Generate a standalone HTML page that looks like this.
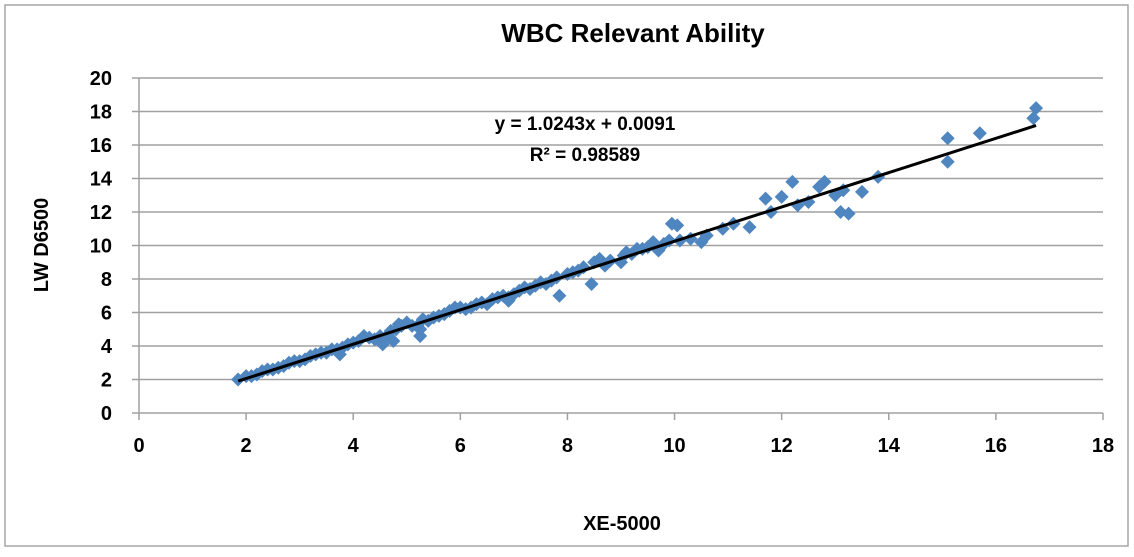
<!DOCTYPE html>
<html><head><meta charset="utf-8"><style>
body{margin:0;background:#fff;font-family:"Liberation Sans",Arial,sans-serif}
svg text{font-family:"Liberation Sans",Arial,sans-serif;font-weight:bold}
</style></head><body>
<svg id="c" width="1134" height="552">
<rect x="5" y="5" width="1123" height="541" fill="#fff" stroke="#a6a6a6" stroke-width="1.5"/>
<text x="633" y="42" font-size="26" text-anchor="middle">WBC Relevant Ability</text>
<text x="585" y="130" font-size="19" text-anchor="middle">y = 1.0243x + 0.0091</text>
<text x="585" y="161" font-size="19" text-anchor="middle">R² = 0.98589</text>
<text x="622" y="530" font-size="20" text-anchor="middle">XE-5000</text>
<text transform="translate(48,245) rotate(-90)" font-size="20" text-anchor="middle">LW D6500</text>
<g id="grid"></g><g id="pts"></g><g id="trend"></g>
</svg>
<script>
const xTicks=[0,2,4,6,8,10,12,14,16,18];
const yTicks=[0,2,4,6,8,10,12,14,16,18,20];
const xs=[1.85,2.0,2.1,2.2,2.3,2.4,2.5,2.6,2.7,2.8,2.9,3.0,3.1,3.2,3.3,3.4,3.5,3.6,3.7,3.8,3.9,4.0,4.1,4.2,4.3,4.4,4.5,4.6,4.7,4.8,4.85,4.9,5.0,5.1,5.2,5.25,5.3,5.4,5.5,5.6,5.7,5.8,5.9,6.0,6.1,6.2,6.3,6.4,6.5,6.6,6.7,6.8,6.9,7.0,7.1,7.2,7.3,7.4,7.5,7.6,7.7,7.8,7.85,8.0,8.1,8.2,8.3,8.45,8.5,8.6,8.7,8.8,9.0,9.05,9.1,9.2,9.3,9.4,9.5,9.6,9.7,9.8,9.9,9.95,10.05,10.1,10.3,10.5,10.6,10.9,11.1,11.4,11.7,11.8,12.0,12.2,12.3,12.5,12.7,12.8,13.0,13.1,13.15,13.25,13.5,13.8,15.1,15.1,15.7,16.7,16.75,4.75,5.25,6.9,4.55,3.75];
const ys=[2.0,2.2,2.2,2.3,2.5,2.6,2.6,2.7,2.8,3.0,3.1,3.1,3.2,3.4,3.5,3.6,3.6,3.8,3.8,3.9,4.1,4.2,4.3,4.6,4.5,4.4,4.6,4.5,4.9,5.0,5.3,5.2,5.4,5.2,5.2,5.0,5.6,5.5,5.7,5.8,5.9,6.1,6.3,6.3,6.2,6.3,6.5,6.6,6.5,6.8,6.9,7.0,6.9,7.1,7.3,7.5,7.4,7.6,7.8,7.7,7.9,8.1,7.0,8.3,8.4,8.5,8.7,7.7,9.0,9.2,8.8,9.1,9.0,9.4,9.6,9.5,9.8,9.8,9.9,10.2,9.7,10.1,10.3,11.3,11.2,10.3,10.4,10.2,10.6,11.0,11.3,11.1,12.8,12.0,12.9,13.8,12.4,12.6,13.5,13.8,13.0,12.0,13.3,11.9,13.2,14.1,16.4,15.0,16.7,17.6,18.2,4.3,4.6,6.7,4.1,3.5];
const slope=1.0243, intercept=0.0091, xMin=1.85, xMax=16.75;
const X=v=>139+v*(1103-139)/18, Y=v=>413-v*(413-78)/20;
const NS='http://www.w3.org/2000/svg';
function mk(t,a,p){const e=document.createElementNS(NS,t);for(const k in a)e.setAttribute(k,a[k]);p.appendChild(e);return e;}
const g=document.getElementById('grid');
yTicks.forEach(t=>{
 const l=mk('line',{x1:132,x2:1103,y1:Y(t),y2:Y(t),stroke:'#a0a0a0','stroke-width':1.5},g);
 
 
 const tx=mk('text',{x:112,y:Y(t)+7,'font-size':20,'text-anchor':'end'},g);tx.textContent=t;
 
 
});
mk('line',{x1:139,x2:139,y1:78,y2:413,stroke:'#a0a0a0','stroke-width':1.5},g);
xTicks.forEach(t=>{
 const l=mk('line',{x1:X(t),x2:X(t),y1:413,y2:420,stroke:'#a0a0a0','stroke-width':1.5},g);
 
 
 const tx=mk('text',{x:X(t),y:452,'font-size':20,'text-anchor':'middle'},g);tx.textContent=t;
 
 
});
const p=document.getElementById('pts');
xs.forEach((v,i)=>{
 const cx=X(v),cy=Y(ys[i]);
 const d=mk('polygon',{points:`${cx},${cy-7} ${cx+7},${cy} ${cx},${cy+7} ${cx-7},${cy}`,fill:'#4f86c0'},p);
 
 
});
const tl=mk('line',{x1:X(xMin),y1:Y(slope*xMin+intercept),x2:X(xMax),y2:Y(slope*xMax+intercept),stroke:'#000','stroke-width':3},document.getElementById('trend'));


</script>
</body></html>
